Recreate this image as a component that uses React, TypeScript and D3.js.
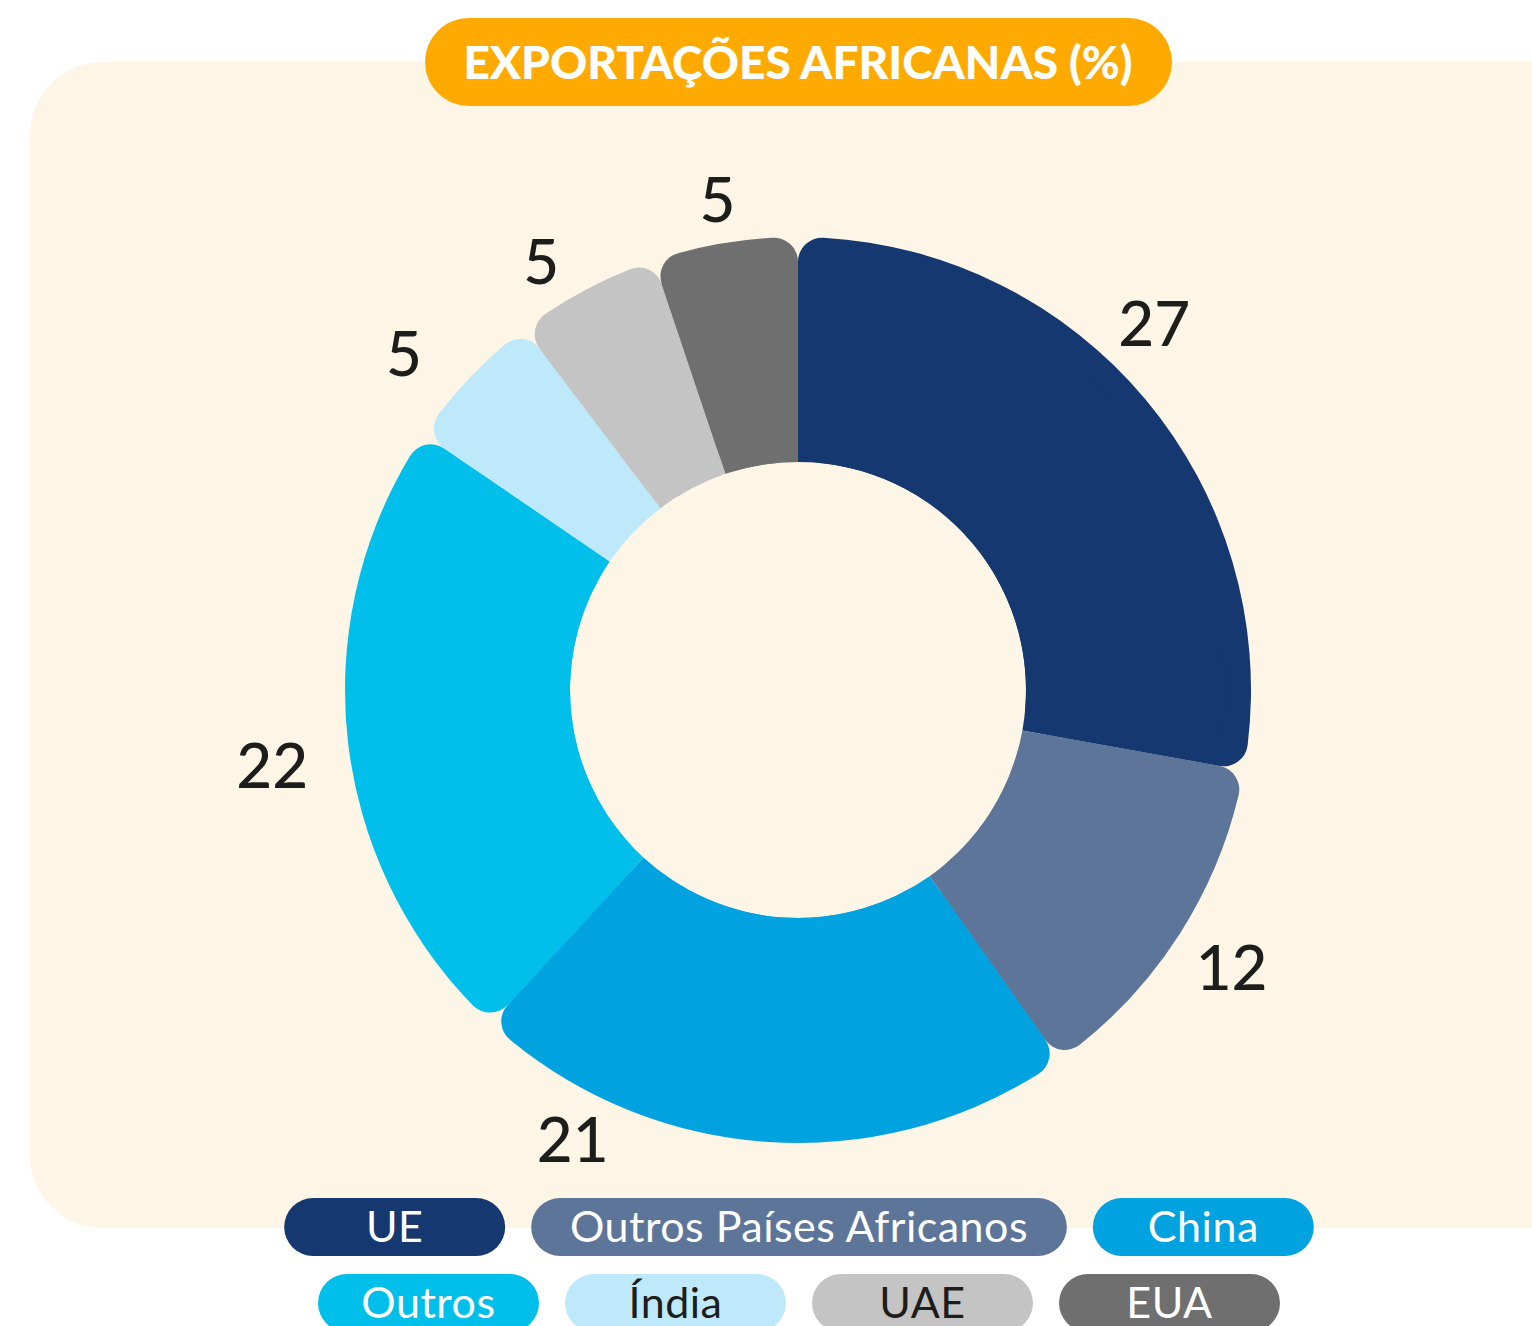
import React from "react";
import * as d3 from "d3";

const categories = ["UE", "Outros Países Africanos", "China", "Outros", "Índia", "UAE", "EUA"];
const values = [27, 12, 21, 22, 5, 5, 5];
const colors = ["#14386f", "#5c7599", "#00a3e0", "#00bfea", "#bde9fa", "#c4c4c4", "#6f6f6f"];
const legendTextColors = ["#ffffff", "#ffffff", "#ffffff", "#ffffff", "#1d1d1b", "#1d1d1b", "#ffffff"];
const legendRows = [[0, 1, 2], [3, 4, 5, 6]];
const title = "EXPORTAÇÕES AFRICANAS (%)";

// label placement tweaks (degrees offset from slice centroid, radius)
const labelAngleShift = [-6, 0, 23, -1.5, -3, -3, 0];
const labelRadius = [512, 514, 501, 531, 519, 501, 499];

const W = 1532;
const H = 1326;
const cx = 798;
const cy = 690;
const innerR = 228;
const outerR = 453;
const cornerR = 24;

function measure(text: string, font: string, spacing: number): number {
  if (typeof document === "undefined") return text.length * 20;
  const c = document.createElement("canvas");
  const ctx = c.getContext("2d");
  if (!ctx) return text.length * 20;
  ctx.font = font;
  return ctx.measureText(text).width + spacing * text.length;
}

export default function App() {
  const pie = d3.pie<number>().sort(null).value((d) => d);
  const arcs = pie(values);
  const roundArc = d3.arc<d3.PieArcDatum<number>>().innerRadius(innerR).outerRadius(outerR).cornerRadius(cornerR);
  const sharpArc = d3.arc<d3.PieArcDatum<number>>().innerRadius(innerR).outerRadius(outerR - cornerR - 2);

  const legendFont = "43px Lato";
  const spacing = 0.5;
  const pillH = 58;
  const gap = 26;
  const rowY = [1198, 1274];

  return (
    <div style={{ position: "absolute", left: 0, top: 0, width: W, height: H, overflow: "hidden" }}>
      <svg width={W} height={H} style={{ display: "block" }}>
        <rect x={0} y={0} width={W} height={H} fill="#ffffff" />
        <rect x={30} y={62} width={1600} height={1166} rx={73} ry={73} fill="#fdf5e5" />
        <rect x={425} y={18} width={747} height={88} rx={44} ry={44} fill="#ffaa00" />
        <text
          x={798}
          y={61}
          textAnchor="middle"
          dominantBaseline="central"
          fill="#ffffff"
          style={{ font: "900 46px Lato" }}
        >
          {title}
        </text>
        <g transform={`translate(${cx},${cy})`}>
          {arcs.map((a, i) => (
            <g key={i}>
              <path d={roundArc(a) || ""} fill={colors[i]} />
              <path d={sharpArc(a) || ""} fill={colors[i]} />
            </g>
          ))}
          {arcs.map((a, i) => {
            const ang = (a.startAngle + a.endAngle) / 2 + (labelAngleShift[i] * Math.PI) / 180;
            const r = labelRadius[i];
            const x = Math.sin(ang) * r;
            const y = -Math.cos(ang) * r;
            return (
              <text
                key={"l" + i}
                x={x}
                y={y}
                textAnchor="middle"
                dominantBaseline="central"
                fill="#1d1d1b"
                style={{ font: "500 62px Lato" }}
              >
                {values[i]}
              </text>
            );
          })}
        </g>
        {legendRows.map((row, ri) => {
          const widths = row.map((i) => Math.max(221, measure(categories[i], legendFont, spacing) + 76));
          const total = widths.reduce((s, w) => s + w, 0) + gap * (row.length - 1);
          let x = 799 - total / 2;
          return (
            <g key={"r" + ri}>
              {row.map((i, k) => {
                const w = widths[k];
                const x0 = x;
                x += w + gap;
                return (
                  <g key={i}>
                    <rect x={x0} y={rowY[ri]} width={w} height={pillH} rx={29} ry={29} fill={colors[i]} />
                    <text
                      x={x0 + w / 2}
                      y={rowY[ri] + pillH / 2 - 2}
                      textAnchor="middle"
                      dominantBaseline="central"
                      fill={legendTextColors[i]}
                      style={{ font: legendFont, letterSpacing: spacing }}
                    >
                      {categories[i]}
                    </text>
                  </g>
                );
              })}
            </g>
          );
        })}
      </svg>
    </div>
  );
}
